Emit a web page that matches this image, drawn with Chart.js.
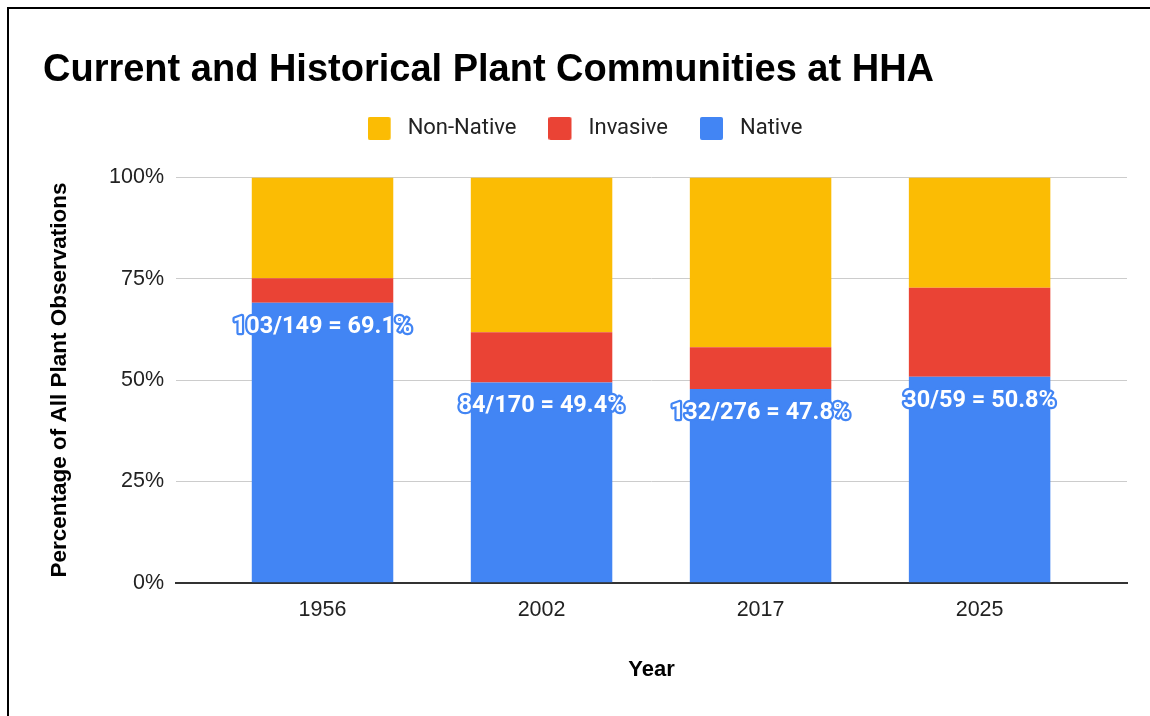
<!DOCTYPE html>
<html><head><meta charset="utf-8">
<script src="https://cdn.jsdelivr.net/npm/chart.js@4.4.1/dist/chart.umd.min.js"></script>
<style>
html,body{margin:0;padding:0;background:#fff;overflow:hidden}
#wrap{position:relative;width:1150px;height:716px;overflow:hidden}
#frame{position:absolute;left:7px;top:7px;width:1300px;height:900px;border-left:2px solid #000;border-top:2px solid #000}
canvas{position:absolute;left:0;top:0}
</style></head><body>
<div id="wrap"><div id="frame"></div><canvas id="c" width="1150" height="716"></canvas></div>
<script>
const categories = ['1956', '2002', '2017', '2025'];
const nativePct = [69.1, 49.4, 47.8, 50.8];
const invasivePct = [6.0, 12.4, 10.3, 22.0];
const nonNativePct = [24.9, 38.2, 41.9, 27.2];
const nativeLabels = ['103/149 = 69.1%', '84/170 = 49.4%', '132/276 = 47.8%', '30/59 = 50.8%'];
const yTicks = [0, 25, 50, 75, 100];

const ARIAL = "'Liberation Sans', Arial, sans-serif";
const COLORS = { native: '#4285F4', invasive: '#EA4335', nonNative: '#FBBC04' };

function pts(arr) { return arr.map((v, i) => ({ x: i, y: v })); }

function boxImg(color) {
  const c = document.createElement('canvas');
  c.width = 29; c.height = 23;
  const g = c.getContext('2d');
  g.fillStyle = color;
  g.beginPath();
  if (g.roundRect) g.roundRect(0, 0, 23, 23, 2); else g.rect(0, 0, 23, 23);
  g.fill();
  return c;
}

const datasets = [
  { label: 'Native', data: pts(nativePct), backgroundColor: COLORS.native },
  { label: 'Invasive', data: pts(invasivePct), backgroundColor: COLORS.invasive },
  { label: 'Non-Native', data: pts(nonNativePct), backgroundColor: COLORS.nonNative }
].map(d => Object.assign(d, { xAxisID: 'x', yAxisID: 'y', borderWidth: 0, categoryPercentage: 1, barPercentage: 0.646 }));

const legendImgs = datasets.map(d => boxImg(d.backgroundColor));

const labelPlugin = {
  id: 'nativeLabels',
  afterDatasetsDraw(chart) {
    const meta = chart.getDatasetMeta(0);
    const ctx = chart.ctx;
    ctx.save();
    ctx.font = "bold 23.5px Roboto, 'Liberation Sans', sans-serif";
    ctx.textAlign = 'center';
    ctx.textBaseline = 'middle';
    ctx.lineJoin = 'round';
    ctx.lineWidth = 4.5;
    ctx.strokeStyle = COLORS.native;
    ctx.fillStyle = '#ffffff';
    meta.data.forEach((el, i) => {
      const y = el.y + 24;
      ctx.strokeText(nativeLabels[i], el.x, y);
      ctx.fillText(nativeLabels[i], el.x, y);
    });
    ctx.restore();
  }
};

new Chart(document.getElementById('c'), {
  type: 'bar',
  data: { datasets },
  plugins: [labelPlugin],
  options: {
    responsive: false,
    animation: false,
    devicePixelRatio: 1,
    layout: { padding: { left: 43, right: 23, top: 0, bottom: 0 } },
    plugins: {
      tooltip: { enabled: false },
      title: {
        display: true,
        text: 'Current and Historical Plant Communities at HHA',
        align: 'start',
        color: '#000',
        font: { size: 38, weight: 'bold', family: ARIAL, lineHeight: 0.8 },
        padding: { top: 55, bottom: 0 }
      },
      legend: {
        display: true,
        position: 'top',
        align: 'center',
        reverse: true,
        labels: {
          usePointStyle: true,
          pointStyleWidth: 29,
          padding: 32,
          color: '#222',
          font: { size: 22, family: "Roboto, 'Liberation Sans', sans-serif" },
          generateLabels(chart) {
            const items = Chart.defaults.plugins.legend.labels.generateLabels(chart);
            items.forEach(it => { it.pointStyle = legendImgs[it.datasetIndex]; });
            return items;
          }
        }
      }
    },
    scales: {
      x: {
        type: 'linear',
        position: 'bottom',
        stacked: true,
        offset: false,
        min: -0.669,
        max: 3.673,
        z: 1,
        afterBuildTicks(s) { s.ticks = categories.map((c, i) => ({ value: i })); },
        ticks: {
          padding: 14,
          color: '#222',
          autoSkip: false,
          maxRotation: 0,
          font: { size: 21.5, family: ARIAL },
          callback: (v) => (categories[v] !== undefined ? categories[v] : '')
        },
        grid: { display: false, drawTicks: false, offset: false },
        border: { display: true, color: '#333', width: 2 },
        title: {
          display: true, text: 'Year', color: '#000',
          font: { size: 22, weight: 'bold', family: ARIAL },
          padding: { top: 0, bottom: 32.8 }
        },
        afterFit(s) { s.height = 133.3; }
      },
      xTop: {
        type: 'linear',
        position: 'top',
        display: true,
        offset: false,
        grid: { display: false, drawTicks: false },
        border: { display: false },
        ticks: { display: false },
        afterFit(s) { s.height = 28; }
      },
      y: {
        stacked: true,
        min: 0,
        max: 100,
        afterBuildTicks(s) { s.ticks = yTicks.map(v => ({ value: v })); },
        ticks: {
          padding: 12,
          color: '#222',
          font: { size: 21.5, family: ARIAL },
          callback: (v) => v + '%'
        },
        grid: { color: '#cccccc', lineWidth: 1, drawTicks: false },
        border: { display: false },
        title: {
          display: true, text: 'Percentage of All Plant Observations', color: '#000',
          font: { size: 22.5, weight: 'bold', family: ARIAL },
          padding: { top: 3, bottom: 0 }
        },
        afterFit(s) { s.width = 133; }
      }
    }
  }
});
</script>
</body></html>
